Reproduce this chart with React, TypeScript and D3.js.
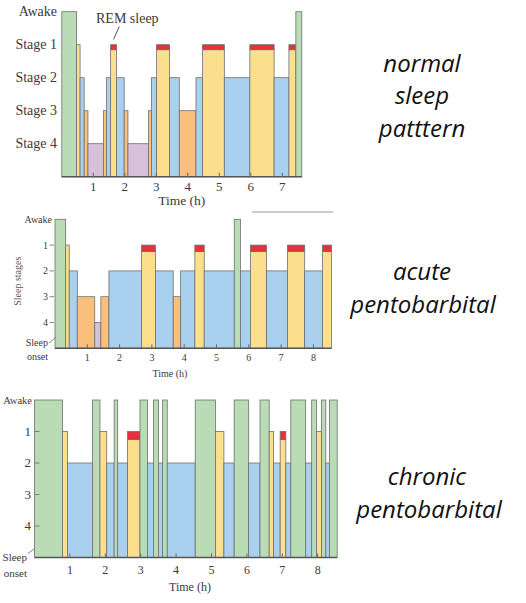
import * as d3 from "d3";

// ── Data: stage per segment and the hour at which each segment ends ─────
// W = awake, R = REM (stage-1 level with red cap), 1..4 = sleep stages
const NORMAL_STAGES = ["W", "1", "2", "3", "4", "3", "2", "R", "2", "3", "4", "3", "2", "R", "2", "3", "2", "R", "2", "R", "2", "R", "W"];
const NORMAL_ENDS = [0.47, 0.58, 0.71, 0.83, 1.32, 1.42, 1.55, 1.74, 1.98, 2.1, 2.75, 2.85, 3.01, 3.42, 3.73, 4.26, 4.47, 5.16, 5.97, 6.74, 7.21, 7.43, 7.62];

const ACUTE_STAGES = ["W", "1", "2", "3", "4", "3", "2", "R", "2", "3", "2", "R", "2", "W", "2", "R", "2", "R", "2", "R"];
const ACUTE_ENDS = [0.33, 0.44, 0.69, 1.23, 1.42, 1.67, 2.68, 3.11, 3.66, 3.89, 4.33, 4.62, 5.55, 5.74, 6.05, 6.55, 7.2, 7.73, 8.28, 8.56];

const CHRONIC_STAGES = ["W", "1", "2", "W", "1", "2", "W", "2", "R", "W", "2", "W", "2", "W", "2", "W", "1", "2", "W", "2", "W", "1", "2", "R", "2", "W", "2", "W", "1", "W", "2", "W"];
const CHRONIC_ENDS = [0.79, 0.93, 1.64, 1.85, 2.04, 2.25, 2.35, 2.63, 2.98, 3.19, 3.36, 3.5, 3.62, 3.75, 4.54, 5.11, 5.35, 5.64, 6.05, 6.37, 6.63, 6.75, 6.94, 7.1, 7.24, 7.66, 7.83, 7.97, 8.11, 8.23, 8.33, 8.55];

const NORMAL_HOURS = [1, 2, 3, 4, 5, 6, 7];
const DRUG_HOURS = [1, 2, 3, 4, 5, 6, 7, 8];
const NORMAL_LEVELS = ["Awake", "Stage 1", "Stage 2", "Stage 3", "Stage 4"];
const DRUG_LEVELS = ["Awake", "1", "2", "3", "4"];

// ── Style ─────────────────────────────────────────────────────
const FILL: Record<string, string> = {
  W: "#b9dcb6",
  "1": "#fcdf8c",
  R: "#fcdf8c",
  "2": "#a9d1ef",
  "3": "#f8c07c",
  "4": "#d6c1da",
};
const LEVEL: Record<string, number> = { W: 0, R: 1, "1": 1, "2": 2, "3": 3, "4": 4 };
const REM_RED = "#e3323c";
const EDGE = "#6f6f6f";
const SERIF = "'Liberation Serif', 'DejaVu Serif', serif";
const TXT = "#3a3a3a";

interface PanelCfg {
  stages: string[];
  ends: number[];
  hours: number[];
  levels: string[];
  x0: number;
  pph: number; // px per hour
  top: number;
  step: number;
  remCap: number;
}

function Hypnogram({ cfg }: { cfg: PanelCfg }) {
  const x = d3.scaleLinear().domain([0, 8]).range([cfg.x0, cfg.x0 + 8 * cfg.pph]);
  const y = d3.scaleLinear().domain([0, 5]).range([cfg.top, cfg.top + 5 * cfg.step]);
  const base = y(5);
  const starts = [0, ...cfg.ends.slice(0, -1)];
  const tEnd = cfg.ends[cfg.ends.length - 1];

  return (
    <g>
      {cfg.stages.map((s, i) => {
        const x1 = x(starts[i]);
        const x2 = x(cfg.ends[i]);
        const yt = y(LEVEL[s]);
        if (s === "R") {
          return (
            <g key={i}>
              <rect x={x1} y={yt + cfg.remCap} width={x2 - x1} height={base - yt - cfg.remCap}
                fill={FILL.R} stroke={EDGE} strokeWidth={0.8} />
              <rect x={x1} y={yt} width={x2 - x1} height={cfg.remCap}
                fill={REM_RED} stroke={EDGE} strokeWidth={0.8} />
            </g>
          );
        }
        return (
          <rect key={i} x={x1} y={yt} width={x2 - x1} height={base - yt}
            fill={FILL[s]} stroke={EDGE} strokeWidth={0.8} />
        );
      })}
      {/* baseline + hour ticks */}
      <line x1={x(0)} x2={x(tEnd)} y1={base} y2={base} stroke="#555" strokeWidth={1.4} />
      {cfg.hours.map((h) => (
        <line key={h} x1={x(h)} x2={x(h)} y1={base} y2={base - 4} stroke="#666" strokeWidth={1} />
      ))}
    </g>
  );
}

const P1: PanelCfg = {
  stages: NORMAL_STAGES, ends: NORMAL_ENDS, hours: NORMAL_HOURS, levels: NORMAL_LEVELS,
  x0: 61.8, pph: 31.5, top: 11.7, step: 33, remCap: 5,
};
const P2: PanelCfg = {
  stages: ACUTE_STAGES, ends: ACUTE_ENDS, hours: DRUG_HOURS, levels: DRUG_LEVELS,
  x0: 55, pph: 32.3, top: 219.3, step: 25.8, remCap: 6.5,
};
const P3: PanelCfg = {
  stages: CHRONIC_STAGES, ends: CHRONIC_ENDS, hours: DRUG_HOURS, levels: DRUG_LEVELS,
  x0: 34.5, pph: 35.4, top: 400, step: 31.5, remCap: 8,
};

export default function App() {
  const x1 = d3.scaleLinear().domain([0, 8]).range([P1.x0, P1.x0 + 8 * P1.pph]);
  const y1 = d3.scaleLinear().domain([0, 5]).range([P1.top, P1.top + 5 * P1.step]);
  const x2 = d3.scaleLinear().domain([0, 8]).range([P2.x0, P2.x0 + 8 * P2.pph]);
  const y2 = d3.scaleLinear().domain([0, 5]).range([P2.top, P2.top + 5 * P2.step]);
  const x3 = d3.scaleLinear().domain([0, 8]).range([P3.x0, P3.x0 + 8 * P3.pph]);
  const y3 = d3.scaleLinear().domain([0, 5]).range([P3.top, P3.top + 5 * P3.step]);

  const side = { fontFamily: "'Open Sans', 'DejaVu Sans', sans-serif", fontStyle: "italic", fontSize: 24, fill: "#111" };

  return (
    <svg width={526} height={603} style={{ position: "absolute", left: 0, top: 0, background: "#fff" }}>
      {/* ── Panel 1: normal ─────────────────────────────── */}
      <Hypnogram cfg={P1} />
      {P1.levels.map((l, i) => (
        <text key={l} x={57} y={y1(i) + 4.5} textAnchor="end" fontFamily={SERIF} fontSize={14} fill={TXT}>{l}</text>
      ))}
      {P1.hours.map((h) => (
        <text key={h} x={x1(h)} y={191} textAnchor="middle" fontFamily={SERIF} fontSize={13} fill={TXT}>{h}</text>
      ))}
      <text x={181.7} y={205} textAnchor="middle" fontFamily={SERIF} fontSize={13.5} fill={TXT}>Time (h)</text>
      <text x={96} y={23} fontFamily={SERIF} fontSize={14} fill={TXT}>REM sleep</text>
      <line x1={119.3} y1={26.5} x2={113.5} y2={39.5} stroke="#444" strokeWidth={0.9} />

      {/* ── Panel 2: acute ──────────────────────────────── */}
      <line x1={252} x2={333} y1={212} y2={212} stroke="#9a9a9a" strokeWidth={1.2} />
      <Hypnogram cfg={P2} />
      {P2.levels.map((l, i) => (
        <g key={l}>
          <text x={i === 0 ? 52 : 48} y={y2(i) + 3.5} textAnchor="end" fontFamily={SERIF} fontSize={10} fill={TXT}>{l}</text>
          {i > 0 && <line x1={49.5} x2={54} y1={y2(i)} y2={y2(i)} stroke="#666" strokeWidth={0.8} />}
        </g>
      ))}
      <text x={48} y={346} textAnchor="end" fontFamily={SERIF} fontSize={10} fill={TXT}>Sleep</text>
      <text x={48} y={360} textAnchor="end" fontFamily={SERIF} fontSize={10} fill={TXT}>onset</text>
      <line x1={49} y1={343} x2={56} y2={337} stroke="#666" strokeWidth={0.8} />
      {P2.hours.map((h) => (
        <text key={h} x={x2(h)} y={361} textAnchor="middle" fontFamily={SERIF} fontSize={10} fill={TXT}>{h}</text>
      ))}
      <text x={170} y={377} textAnchor="middle" fontFamily={SERIF} fontSize={10} fill={TXT}>Time (h)</text>
      <text x={0} y={0} transform={`translate(21, ${y2(2.4)}) rotate(-90)`} textAnchor="middle"
        fontFamily={SERIF} fontSize={10} fill="#555">Sleep stages</text>

      {/* ── Panel 3: chronic ────────────────────────────── */}
      <Hypnogram cfg={P3} />
      {P3.levels.map((l, i) => (
        <g key={l}>
          <text x={i === 0 ? 32 : 31} y={y3(i) + 4} textAnchor="end" fontFamily={SERIF} fontSize={i === 0 ? 10.5 : 13} fill={TXT}>{l}</text>
          {i > 0 && <line x1={35} x2={39.5} y1={y3(i)} y2={y3(i)} stroke="#666" strokeWidth={0.8} />}
        </g>
      ))}
      <text x={27} y={561} textAnchor="end" fontFamily={SERIF} fontSize={11} fill={TXT}>Sleep</text>
      <text x={27} y={577} textAnchor="end" fontFamily={SERIF} fontSize={11} fill={TXT}>onset</text>
      <line x1={28} y1={553.5} x2={34} y2={549} stroke="#666" strokeWidth={0.8} />
      {P3.hours.map((h) => (
        <text key={h} x={x3(h)} y={574} textAnchor="middle" fontFamily={SERIF} fontSize={12} fill={TXT}>{h}</text>
      ))}
      <text x={190} y={591} textAnchor="middle" fontFamily={SERIF} fontSize={12} fill={TXT}>Time (h)</text>

      {/* ── Side captions ───────────────────────────────── */}
      <text x={422} y={72} textAnchor="middle" {...side}>normal</text>
      <text x={422} y={104} textAnchor="middle" {...side}>sleep</text>
      <text x={422} y={137} textAnchor="middle" {...side}>patttern</text>
      <text x={422} y={280} textAnchor="middle" {...side}>acute</text>
      <text x={423} y={313} textAnchor="middle" {...side}>pentobarbital</text>
      <text x={427} y={485} textAnchor="middle" {...side}>chronic</text>
      <text x={429} y={518} textAnchor="middle" {...side}>pentobarbital</text>
    </svg>
  );
}
